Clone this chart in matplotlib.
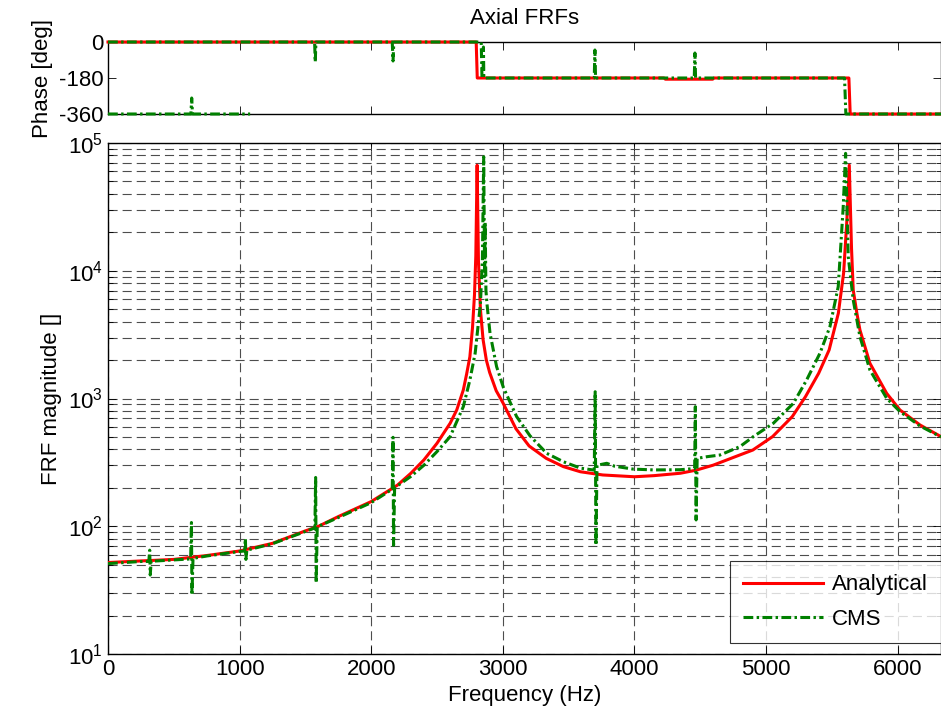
"""Axial FRFs: analytical vs CMS, phase and magnitude."""

import numpy as np
import matplotlib

matplotlib.use("Agg")
import matplotlib.pyplot as plt

# ---- data ----
freq_ana = [0, 250, 500, 750, 1000, 1250, 1500, 1600, 1750, 2000, 2200, 2300, 2400, 2500,
            2600, 2650, 2700, 2725, 2750, 2770, 2785, 2795, 2805, 2815, 2830, 2850, 2875,
            2900, 2950, 3000, 3100, 3200, 3330, 3460, 3590, 3760, 4000, 4150, 4350, 4470,
            4600, 4800, 4900, 5050, 5200, 5300, 5400, 5480, 5550, 5590, 5615, 5633, 5650,
            5663, 5690, 5714, 5790, 5917, 6018, 6170, 6330]
mag_ana = [52, 53.5, 55, 59, 64, 73.5, 92, 100, 119, 156, 210, 259, 330, 446,
           640, 813, 1166, 1550, 2125, 3600, 6500, 13000, 67000, 12000, 5000, 2900, 2000,
           1600, 1150, 930, 580, 425, 340, 293, 267, 252, 244, 249, 260, 275,
           301, 361, 395, 503, 722, 1033, 1573, 2400, 4650, 9600, 25000, 67000, 15000,
           7070, 4700, 3440, 1885, 1098, 813, 621, 503]

freq_cms = [0, 250, 310, 317, 321, 328, 500, 628, 634, 638, 646, 750, 1000, 1038, 1044,
            1048, 1055, 1250, 1500, 1572, 1578, 1582, 1590, 1750, 2000, 2160, 2166, 2170,
            2178, 2300, 2400, 2500, 2600, 2700, 2750, 2790, 2830, 2845, 2855, 2862, 2866,
            2872, 2880, 2903, 2953, 3004, 3105, 3207, 3334, 3460, 3590, 3695, 3702, 3708,
            3716, 3790, 3850, 3992, 4150, 4347, 4458, 4463, 4469, 4477, 4549, 4650, 4802,
            4904, 5056, 5208, 5309, 5410, 5486, 5549, 5587, 5605, 5625, 5663, 5714, 5790,
            5917, 6018, 6170, 6330]
mag_cms = [51, 53, 53, 65, 41.5, 53.2, 54.5, 55.5, 107, 29, 56, 58.5, 63.5, 64, 80,
           55, 65, 73, 91, 97, 241, 36, 99, 117, 153, 195, 497, 71,
           200, 245, 300, 384, 503, 863, 1396, 2260, 5500, 12000, 78000, 9000, 24000,
           7000, 5500, 3240, 1775, 1225, 722, 510, 372, 320, 285, 275, 1130, 71,
           300, 311, 295, 280, 276, 277, 283, 863, 112, 340, 350, 361, 420,
           503, 640, 916, 1396, 2260, 3650, 7500, 31700, 83000, 12900, 5900, 3050, 1670,
           1005, 790, 610, 500]

freq_ph_ana = [0, 2798, 2806, 4225, 4235, 4595, 4605, 5630, 5640, 6330]
phase_ana = [0, 0, -180, -180, -186, -186, -180, -180, -360, -360]

# green phase: low-frequency branch wrapped to -360, then the main branch
freq_ph_cms = [0, 630, 636, 642, 1080, np.nan,
               0, 1570, 1575, 1580, 2160, 2166, 2172, 2836, 2842, 2850, 2853, 2856,
               3695, 3700, 3705, 4455, 4460, 4465, 5597, 5607, 6330]
phase_cms = [-360, -360, -280, -360, -360, np.nan,
             0, 0, -100, 0, 0, -95, 0, 0, -180, -180, -25, -180,
             -180, -40, -180, -180, -55, -180, -180, -360, -360]

xticks = [0, 1000, 2000, 3000, 4000, 5000, 6000]
phase_ticks = [0, -180, -360]
phase_labels = ["0", "-180", "-360"]

# ---- style ----
plt.rcParams["font.family"] = ["Liberation Sans", "DejaVu Sans"]
plt.rcParams["mathtext.fontset"] = "custom"
plt.rcParams["mathtext.rm"] = "Liberation Sans"
plt.rcParams["axes.unicode_minus"] = False
FS = 16
RED = "#ff0000"
GREEN = "#008000"
LW = 2.2
CMS_DASH = (0, (3.2, 1.1, 0.8, 1.1))
XMAX = 6330

W, H = 941, 721
fig = plt.figure(figsize=(W / 100, H / 100), dpi=100)
ax_ph = fig.add_axes([108 / W, 1 - 114 / H, 1 - 108 / W, 72 / H])
ax = fig.add_axes([108 / W, 1 - 654 / H, 1 - 108 / W, 511 / H])

# phase
ax_ph.plot(freq_ph_ana, phase_ana, color=RED, lw=LW, clip_on=False, zorder=3)
ax_ph.plot(freq_ph_cms, phase_cms, color=GREEN, lw=LW, linestyle=CMS_DASH, clip_on=False, zorder=3)
ax_ph.set_xlim(0, XMAX)
ax_ph.set_ylim(-360, 0)
ax_ph.set_yticks(phase_ticks)
ax_ph.set_yticklabels(phase_labels)
ax_ph.set_xticks(xticks)
ax_ph.set_xticklabels([])
ax_ph.set_ylabel("Phase [deg]", fontsize=FS)
ax_ph.set_title("Axial FRFs", fontsize=FS, pad=13)
ax_ph.tick_params(direction="in", top=True, right=True, labelsize=FS, length=5.5, width=0.6)

# magnitude
ax.semilogy(freq_ana, mag_ana, color=RED, lw=LW, label="Analytical", zorder=3)
ax.semilogy(freq_cms, mag_cms, color=GREEN, lw=LW, linestyle=CMS_DASH, label="CMS", zorder=3)
ax.set_xlim(0, XMAX)
ax.set_ylim(10, 1e5)
ax.set_xticks(xticks)
ax.set_axisbelow(True)
ax.grid(True, which="both", color="0.3", linewidth=0.8, linestyle=(0, (8.2, 4.5)))
ax.set_xlabel("Frequency (Hz)", fontsize=FS)
ax.set_ylabel("FRF magnitude []", fontsize=FS)
ax.tick_params(which="both", direction="in", top=True, right=True, labelsize=FS, width=0.6)
ax.tick_params(which="major", length=5.5)
ax.tick_params(which="minor", length=3.5)

for a in (ax_ph, ax):
    for s in a.spines.values():
        s.set_linewidth(1.0)

leg = ax.legend(loc="lower right", bbox_to_anchor=(1.0, 11 / 511), borderaxespad=0,
                fontsize=FS, frameon=True, fancybox=False, edgecolor="black",
                handlelength=3.6, handletextpad=0.4, borderpad=0.6, labelspacing=0.6)
leg.get_frame().set_linewidth(0.8)

fig.savefig("out.png", dpi=100)
plt.close(fig)
